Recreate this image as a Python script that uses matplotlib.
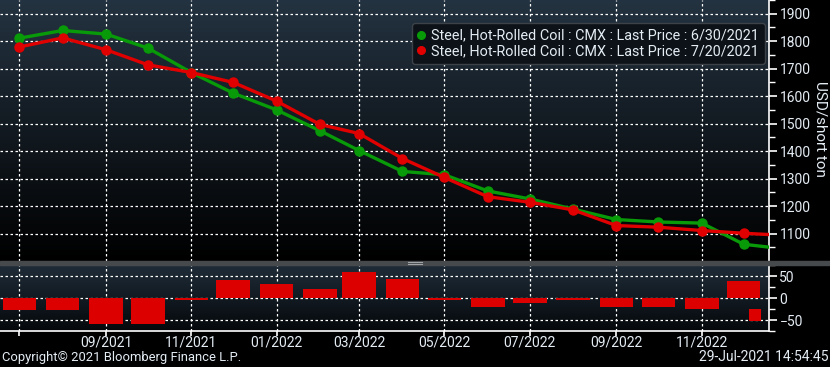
"""Bloomberg-style HRC futures curve: two snapshots plus the change bars."""

from datetime import date, timedelta

import matplotlib

matplotlib.use("Agg")
import matplotlib.dates as mdates  # noqa: E402
import matplotlib.pyplot as plt  # noqa: E402
import numpy as np  # noqa: E402
from matplotlib.colors import LinearSegmentedColormap  # noqa: E402
from matplotlib.lines import Line2D  # noqa: E402
from matplotlib.patches import Rectangle  # noqa: E402
from matplotlib.ticker import FixedLocator  # noqa: E402

# ---------------------------------------------------------------------------
# Data
# ---------------------------------------------------------------------------
contract_months = [
    (2021, 7), (2021, 8), (2021, 9), (2021, 10), (2021, 11), (2021, 12),
    (2022, 1), (2022, 2), (2022, 3), (2022, 4), (2022, 5), (2022, 6),
    (2022, 7), (2022, 8), (2022, 9), (2022, 10), (2022, 11), (2022, 12),
    (2023, 1),
]
price_0630 = [
    1811, 1839, 1826, 1775, 1686, 1611, 1550, 1474, 1402, 1326,
    1314, 1255, 1226, 1189, 1151, 1142, 1138, 1061, 1043,
]
price_0720 = [
    1779, 1812, 1769, 1714, 1686, 1650, 1582, 1497, 1464, 1373,
    1304, 1234, 1214, 1186, 1129, 1123, 1111, 1101, 1093,
]
# change (7/20 minus 6/30), Jul-21 .. Dec-22
change = [
    -28, -26, -58, -58, -3, 42, 32, 21, 60, 44,
    -5, -19, -10, -3, -21, -19, -24, 40,
]
# last-value tag drawn inside the Dec-22 slot of the lower panel
tail_change = (-24, -51)

price_ticks = [1100, 1200, 1300, 1400, 1500, 1600, 1700, 1800, 1900]
change_ticks = [-50, 0, 50]
date_ticks = [(2021, 7), (2021, 9), (2021, 11), (2022, 1), (2022, 3),
              (2022, 5), (2022, 7), (2022, 9), (2022, 11)]

# ---------------------------------------------------------------------------
# Style
# ---------------------------------------------------------------------------
GREEN = "#089a08"
RED = "#e00000"
BAR_RED = "#dd0000"
TEXT = "#e4ecf4"
plt.rcParams["font.family"] = ["Roboto", "DejaVu Sans"]

dates = [date(y, m, 1) for y, m in contract_months]
x0 = mdates.date2num(date(2021, 7, 1))
xlim = (x0 - 13.8, x0 + 536.1)
tick_pos = [mdates.date2num(date(y, m, 1)) for y, m in date_ticks]

fig = plt.figure(figsize=(8.3, 3.67), dpi=100, facecolor="black")
ax = fig.add_axes([0, 0.2888, 0.9265, 0.7112])
axb = fig.add_axes([0, 0.0981, 0.9265, 0.1798])


def _gradient(axis, top, bottom):
    cmap = LinearSegmentedColormap.from_list("bg", [bottom, top])
    grad = np.linspace(0, 1, 256).reshape(-1, 1)
    axis.imshow(grad, extent=[0, 1, 0, 1], transform=axis.transAxes,
                cmap=cmap, aspect="auto", origin="lower", zorder=0)


def _style(axis):
    axis.set_facecolor("black")
    for side in ("top", "left", "bottom"):
        axis.spines[side].set_visible(False)
    axis.spines["right"].set_color("white")
    axis.spines["right"].set_linewidth(1.2)
    axis.yaxis.tick_right()
    axis.tick_params(axis="y", which="major", colors="white", length=6,
                     width=1.2, labelcolor=TEXT, labelsize=10, pad=1.5)
    axis.tick_params(axis="y", which="minor", colors="white", length=4, width=1)
    axis.grid(True, color="white", linestyle=(0, (2, 2)), linewidth=0.9)
    axis.set_axisbelow(False)


_gradient(ax, "#243341", "#000000")
_gradient(axb, "#1f2c38", "#05080b")
_style(ax)
_style(axb)

# --- top panel: forward curves ---
ax.plot(dates, price_0630, color=GREEN, lw=2.4, marker="o", ms=6.5, zorder=3)
ax.plot(dates, price_0720, color=RED, lw=2.4, marker="o", ms=6.5, zorder=4)
ax.set_ylim(1000, 1933)
ax.set_yticks(price_ticks)
ax.set_yticks([1950, 1850, 1750, 1650, 1550, 1450, 1350, 1250, 1150, 1050],
              minor=True)
ax.set_xlim(xlim)
ax.set_xticks(tick_pos)
ax.tick_params(axis="x", length=0, labelbottom=False)
fig.text(820 / 830, 1 - 128.5 / 367, "USD/short ton", rotation=270,
         color=TEXT, fontsize=11, ha="center", va="center")

handles = [
    Line2D([], [], color=GREEN, marker="o", ls="none", ms=5.5),
    Line2D([], [], color=RED, marker="o", ls="none", ms=5.5),
]
leg = ax.legend(
    handles,
    ["Steel, Hot-Rolled Coil : CMX : Last Price : 6/30/2021",
     "Steel, Hot-Rolled Coil : CMX : Last Price : 7/20/2021"],
    loc="upper right", bbox_to_anchor=(0.995, 0.912), borderaxespad=0,
    fontsize=10.4, labelcolor=TEXT, facecolor="#0c1217", edgecolor="#3c4248",
    framealpha=1, handlelength=0.5, handletextpad=0.45, labelspacing=0.12,
    borderpad=0.4, fancybox=True,
)
leg.set_zorder(6)

# --- bottom panel: change bars ---
axb.bar(dates[:-1], change, width=24, color=BAR_RED, zorder=3)
axb.bar(dates[-2] + timedelta(days=8), tail_change[1] - tail_change[0],
        bottom=tail_change[0], width=9, color=BAR_RED, zorder=3)
axb.set_ylim(-74, 76)
axb.set_yticks(change_ticks)
axb.set_yticklabels(["\u221250", "0", "50"])
axb.set_yticks([-75, -25, 25, 75], minor=True)
axb.set_xlim(xlim)
axb.spines["bottom"].set_visible(True)
axb.spines["bottom"].set_color("white")
axb.spines["bottom"].set_linewidth(1.2)
axb.xaxis.set_major_locator(FixedLocator(tick_pos))
axb.set_xticklabels([""] + [f"{m:02d}/{y}" for y, m in date_ticks[1:]])
axb.tick_params(axis="x", colors="white", length=3.5, width=1.2,
                labelcolor=TEXT, labelsize=10, pad=0)

# separator band with grip
fig.add_artist(Rectangle((0, 0.2779), 1.0, 0.0109, transform=fig.transFigure,
                         color="#474a4d", zorder=5))
for yy in (0.2853, 0.2817):
    fig.add_artist(Line2D([0.492, 0.508], [yy, yy], transform=fig.transFigure,
                          color="#a0a4a8", lw=0.8, zorder=6))

fig.text(0.003, 1 - 358 / 367, "Copyright\u00a9 2021 Bloomberg Finance L.P.",
         color=TEXT, fontsize=9.4, ha="left", va="center")
fig.text(0.998, 1 - 357 / 367, "29-Jul-2021 14:54:45", color=TEXT,
         fontsize=10, ha="right", va="center")

fig.savefig("out.png", dpi=100, facecolor="black")
